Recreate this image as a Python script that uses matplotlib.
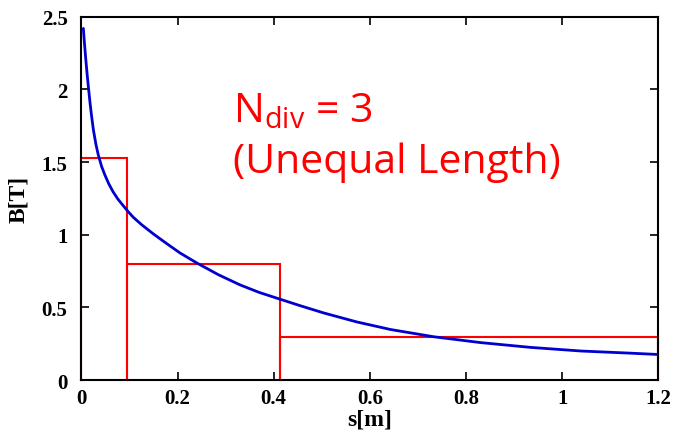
import matplotlib
matplotlib.use("Agg")
import matplotlib.pyplot as plt

# Field curve B(s)
s_curve = [0.004, 0.006, 0.009, 0.012, 0.015, 0.018, 0.021, 0.025, 0.030, 0.035,
           0.042, 0.049, 0.057, 0.066, 0.076, 0.087, 0.097, 0.108, 0.125, 0.150,
           0.175, 0.205, 0.240, 0.285, 0.330, 0.370, 0.412, 0.455, 0.504, 0.573,
           0.643, 0.733, 0.830, 0.934, 1.039, 1.143, 1.200]
B_curve = [2.42, 2.33, 2.21, 2.10, 2.00, 1.905, 1.82, 1.72, 1.625, 1.55,
           1.47, 1.41, 1.35, 1.295, 1.245, 1.20, 1.16, 1.12, 1.07, 1.005,
           0.945, 0.875, 0.806, 0.725, 0.655, 0.603, 0.558, 0.512, 0.462, 0.400,
           0.348, 0.298, 0.258, 0.225, 0.200, 0.185, 0.176]

# Piecewise-constant approximation (3 unequal divisions)
div_edges = [0.0, 0.0954, 0.4135, 1.2]
div_B = [1.53, 0.80, 0.298]

xticks = [0, 0.2, 0.4, 0.6, 0.8, 1.0, 1.2]
xtick_labels = ["0", "0.2", "0.4", "0.6", "0.8", "1", "1.2"]
yticks = [0, 0.5, 1.0, 1.5, 2.0, 2.5]
ytick_labels = ["0", "0.5", "1", "1.5", "2", "2.5"]

fig = plt.figure(figsize=(6.73, 4.35), dpi=100)
ax = fig.add_axes([0.121, 0.124, 0.857, 0.835])

# red rectangles
for i in range(len(div_B)):
    x0, x1, h = div_edges[i], div_edges[i + 1], div_B[i]
    ax.plot([x0, x0, x1, x1], [0, h, h, 0], color="#ff0000", lw=1.5,
            solid_joinstyle="miter", zorder=2, clip_on=False)

ax.plot(s_curve, B_curve, color="#0000d0", lw=2.0, zorder=3,
        solid_joinstyle="round", solid_capstyle="round")

ax.set_xlim(0, 1.2)
ax.set_ylim(0, 2.5)
ax.set_xticks(xticks)
ax.set_xticklabels(xtick_labels)
ax.set_yticks(yticks)
ax.set_yticklabels(ytick_labels)

for lab in ax.get_xticklabels() + ax.get_yticklabels():
    lab.set_fontfamily("Liberation Serif")
    lab.set_fontweight("bold")
    lab.set_fontsize(15)

ax.tick_params(axis="both", direction="in", length=6, width=1.2,
               top=True, right=True, color="black")
ax.tick_params(axis="x", pad=6)
ax.tick_params(axis="y", pad=10)

for sp in ax.spines.values():
    sp.set_linewidth(1.5)
    sp.set_color("black")

label_font = dict(family="Liberation Serif", weight="bold", size=17)
ax.set_xlabel("s[m]", fontdict=label_font, labelpad=0)
ax.set_ylabel("B[T]", fontdict=label_font, labelpad=9)

ax.text(0.263, 0.713, r"N$_{\mathregular{div}}$ = 3", transform=ax.transAxes,
        color="#ff0000", fontsize=29.5, family="Open Sans", va="baseline", ha="left")
ax.text(0.263, 0.573, "(Unequal Length)", transform=ax.transAxes,
        color="#ff0000", fontsize=29.5, family="Open Sans", va="baseline", ha="left")

fig.savefig("out.png", dpi=100)
